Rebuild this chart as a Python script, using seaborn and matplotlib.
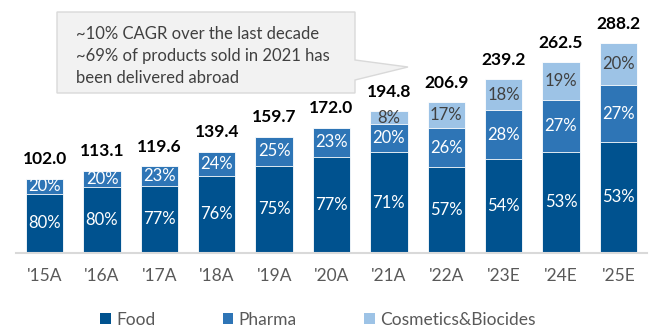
import matplotlib
matplotlib.use("Agg")
import matplotlib.pyplot as plt
import seaborn as sns
import pandas as pd
from matplotlib.patches import Patch, Polygon

years = ["'15A", "'16A", "'17A", "'18A", "'19A", "'20A", "'21A", "'22A", "'23E", "'24E", "'25E"]
totals = [102.0, 113.1, 119.6, 139.4, 159.7, 172.0, 194.8, 206.9, 239.2, 262.5, 288.2]
food_pct = [80, 80, 77, 76, 75, 77, 71, 57, 54, 53, 53]
pharma_pct = [20, 20, 23, 24, 25, 23, 20, 26, 28, 27, 27]
cosm_pct = [0, 0, 0, 0, 0, 0, 8, 17, 18, 19, 20]
series = ["Food", "Pharma", "Cosmetics&Biocides"]
callout_lines = ["~10% CAGR over the last decade",
                 "~69% of products sold in 2021 has",
                 "been delivered abroad"]

C_FOOD = "#00528F"
C_PHARMA = "#2E75B6"
C_COSM = "#9DC3E6"
colors = [C_FOOD, C_PHARMA, C_COSM]

sns.set_style("white")
plt.rcParams["font.family"] = ["Lato", "DejaVu Sans"]

W, H = 654, 327
fig = plt.figure(figsize=(W / 100, H / 100), dpi=100)
ax = fig.add_axes([16 / W, 74 / H, 631 / W, 243 / H])

df = pd.DataFrame({"year": years, "total": totals,
                   "food": [t * p / 100 for t, p in zip(totals, food_pct)],
                   "pharma": [t * p / 100 for t, p in zip(totals, pharma_pct)]})
df["fp"] = df["food"] + df["pharma"]

kw = dict(width=0.65, edgecolor="white", linewidth=0.6, ax=ax)
sns.barplot(data=df, x="year", y="total", color=C_COSM, saturation=1, **kw)
sns.barplot(data=df, x="year", y="fp", color=C_PHARMA, saturation=1, **kw)
sns.barplot(data=df, x="year", y="food", color=C_FOOD, saturation=1, **kw)

ax.set_xlim(-0.5, 10.5)
ax.set_ylim(0, 334)
ax.set_xlabel("")
ax.set_ylabel("")
ax.set_yticks([])
for s in ["top", "right", "left"]:
    ax.spines[s].set_visible(False)
ax.spines["bottom"].set_color("#D9D9D9")
ax.spines["bottom"].set_linewidth(1.5)
ax.tick_params(axis="x", length=0, pad=11, labelsize=12.5, labelcolor="#595959")

for i in range(len(years)):
    t = totals[i]
    f = df["food"][i]
    p = df["pharma"][i]
    ax.text(i, f / 2, f"{food_pct[i]}%", ha="center", va="center", color="white", fontsize=12)
    ax.text(i, f + p / 2, f"{pharma_pct[i]}%", ha="center", va="center", color="white", fontsize=12)
    if cosm_pct[i] > 0:
        ax.text(i, (f + p + t) / 2, f"{cosm_pct[i]}%", ha="center", va="center",
                color="#404040", fontsize=12)
    ax.annotate(f"{t:.1f}", (i, t), xytext=(0, 14), textcoords="offset points",
                ha="center", va="center", fontsize=12.5, fontweight="bold", color="black")

# callout box
pts = [(57, 12), (355, 12), (355, 60), (408, 67), (355, 80), (355, 93), (57, 93)]
poly = Polygon([(x / W, 1 - y / H) for x, y in pts], closed=True, transform=fig.transFigure,
               facecolor="#F2F2F2", edgecolor="#D9D9D9", linewidth=1)
fig.patches.append(poly)
for k, line in enumerate(callout_lines):
    fig.text(76 / W, 1 - (34 + 22 * k) / H, line, ha="left", va="center",
             fontsize=12, color="#404040")

handles = [Patch(facecolor=c, edgecolor="none", label=s) for c, s in zip(colors, series)]
fig.legend(handles=handles, loc="center", bbox_to_anchor=(318 / W, 7 / H), ncol=3,
           frameon=False, fontsize=12.5, labelcolor="#595959", handlelength=0.6,
           handleheight=0.6, handletextpad=0.3, columnspacing=3.9, borderpad=0)

fig.savefig("out.png", dpi=100)
